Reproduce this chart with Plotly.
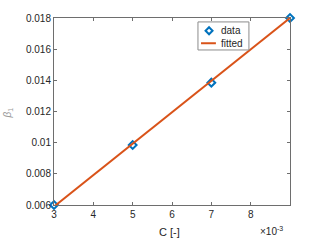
import plotly.graph_objects as go

# data
c_data = [0.003, 0.005, 0.007, 0.009]
beta_data = [0.0060, 0.00985, 0.01385, 0.0180]
c_fit = [0.003, 0.009]
beta_fit = [0.0059, 0.0180]
x_ticks = [0.003, 0.004, 0.005, 0.006, 0.007, 0.008, 0.009]
x_ticklabels = ["3", "4", "5", "6", "7", "8", ""]
y_ticks = [0.006, 0.008, 0.010, 0.012, 0.014, 0.016, 0.018]
y_ticklabels = ["0.006", "0.008", "0.01", "0.012", "0.014", "0.016", "0.018"]
legend_names = ["data", "fitted"]

BLUE = "#0072BD"
ORANGE = "#D95319"
AX = "#6e6e6e"
TXT = "#262626"
FONT = "Liberation Sans, Arial, sans-serif"

fig = go.Figure()
fig.add_trace(go.Scatter(
    x=c_data, y=beta_data, mode="markers", name=legend_names[0],
    marker=dict(symbol="diamond-open", size=6, color=BLUE, line=dict(width=2, color=BLUE)),
    cliponaxis=False, showlegend=False,
))
fig.add_trace(go.Scatter(
    x=c_fit, y=beta_fit, mode="lines", name=legend_names[1],
    line=dict(color=ORANGE, width=2), showlegend=False,
))

axis_common = dict(
    showgrid=False, zeroline=False, showline=True, linecolor=AX, linewidth=1,
    mirror="ticks", ticks="inside", ticklen=3, tickcolor=AX,
    tickfont=dict(family=FONT, size=10, color=TXT),
)
fig.update_xaxes(range=[0.003, 0.009], tickvals=x_ticks, ticktext=x_ticklabels, **axis_common)
fig.update_yaxes(range=[0.006, 0.018], tickvals=y_ticks, ticktext=y_ticklabels, **axis_common)

# custom compact legend (paper coordinates)
lx0, lx1, ly0, ly1 = 0.610, 0.826, 0.829, 0.979
row_y = [0.932, 0.865]
mx, dx, dy = 0.657, 0.0148, 0.0187
shapes = [
    dict(type="rect", xref="paper", yref="paper", x0=lx0, x1=lx1, y0=ly0, y1=ly1,
         line=dict(color="#8c8c8c", width=1), fillcolor="white", layer="above"),
    dict(type="path", xref="paper", yref="paper",
         path=f"M {mx},{row_y[0]+dy} L {mx+dx},{row_y[0]} L {mx},{row_y[0]-dy} L {mx-dx},{row_y[0]} Z",
         line=dict(color=BLUE, width=2), layer="above"),
    dict(type="line", xref="paper", yref="paper", x0=0.623, x1=0.686, y0=row_y[1], y1=row_y[1],
         line=dict(color=ORANGE, width=2), layer="above"),
]
annotations = [
    dict(text=legend_names[i], xref="paper", yref="paper", x=0.699, y=row_y[i],
         xanchor="left", yanchor="middle", showarrow=False,
         font=dict(size=10, color=TXT, family=FONT))
    for i in range(2)
]
annotations += [
    dict(text="C [-]", xref="paper", yref="paper", x=0.49, y=-0.143,
         xanchor="center", yanchor="middle", showarrow=False,
         font=dict(size=11, color=TXT, family=FONT)),
    dict(text="×10<sup>-3</sup>", xref="paper", yref="paper", x=0.979, y=-0.139,
         xanchor="right", yanchor="middle", showarrow=False,
         font=dict(size=10, color=TXT, family=FONT)),
    dict(text="<i>β</i><sub>1</sub>", xref="paper", yref="paper", x=-0.195, y=0.495,
         xanchor="center", yanchor="middle", showarrow=False, textangle=-90,
         font=dict(size=10, color="#9a9a9a", family=FONT)),
]

fig.update_layout(
    width=321, height=241,
    margin=dict(l=54, r=31, t=18, b=36),
    plot_bgcolor="white", paper_bgcolor="white",
    font=dict(family=FONT, size=10, color=TXT),
    showlegend=False,
    hovermode=False,
    shapes=shapes,
    annotations=annotations,
)

# remove the page's default 8px body margin so the figure fills the window
fig.write_html("out.html", config={"displayModeBar": False, "staticPlot": True},
               post_script="document.body.style.margin='0';")
